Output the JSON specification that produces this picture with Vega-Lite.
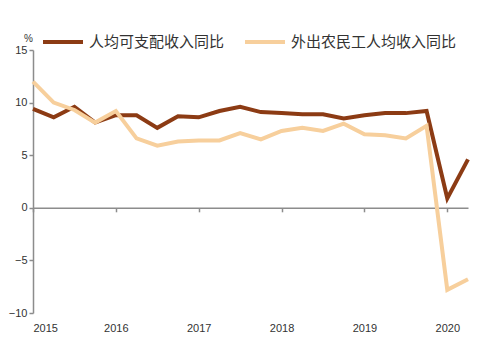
{
  "$schema": "https://vega.github.io/schema/vega-lite/v6.json",
  "width": 435,
  "height": 263,
  "autosize": {"type": "none"},
  "padding": {"left": 33, "top": 50, "right": 32, "bottom": 41},
  "background": "white",
  "config": {"view": {"stroke": null}},
  "data": {
    "values": [
      {"t": 2015.0, "s": "人均可支配收入同比", "v": 9.4},
      {"t": 2015.25, "s": "人均可支配收入同比", "v": 8.6},
      {"t": 2015.5, "s": "人均可支配收入同比", "v": 9.6},
      {"t": 2015.75, "s": "人均可支配收入同比", "v": 8.1},
      {"t": 2016.0, "s": "人均可支配收入同比", "v": 8.8},
      {"t": 2016.25, "s": "人均可支配收入同比", "v": 8.8},
      {"t": 2016.5, "s": "人均可支配收入同比", "v": 7.6},
      {"t": 2016.75, "s": "人均可支配收入同比", "v": 8.7},
      {"t": 2017.0, "s": "人均可支配收入同比", "v": 8.6},
      {"t": 2017.25, "s": "人均可支配收入同比", "v": 9.2},
      {"t": 2017.5, "s": "人均可支配收入同比", "v": 9.6},
      {"t": 2017.75, "s": "人均可支配收入同比", "v": 9.1},
      {"t": 2018.0, "s": "人均可支配收入同比", "v": 9.0},
      {"t": 2018.25, "s": "人均可支配收入同比", "v": 8.9},
      {"t": 2018.5, "s": "人均可支配收入同比", "v": 8.9},
      {"t": 2018.75, "s": "人均可支配收入同比", "v": 8.5},
      {"t": 2019.0, "s": "人均可支配收入同比", "v": 8.8},
      {"t": 2019.25, "s": "人均可支配收入同比", "v": 9.0},
      {"t": 2019.5, "s": "人均可支配收入同比", "v": 9.0},
      {"t": 2019.75, "s": "人均可支配收入同比", "v": 9.2},
      {"t": 2020.0, "s": "人均可支配收入同比", "v": 0.9},
      {"t": 2020.25, "s": "人均可支配收入同比", "v": 4.6},
      {"t": 2015.0, "s": "外出农民工人均收入同比", "v": 12.0},
      {"t": 2015.25, "s": "外出农民工人均收入同比", "v": 10.0},
      {"t": 2015.5, "s": "外出农民工人均收入同比", "v": 9.3},
      {"t": 2015.75, "s": "外出农民工人均收入同比", "v": 8.1},
      {"t": 2016.0, "s": "外出农民工人均收入同比", "v": 9.2},
      {"t": 2016.25, "s": "外出农民工人均收入同比", "v": 6.6},
      {"t": 2016.5, "s": "外出农民工人均收入同比", "v": 5.9},
      {"t": 2016.75, "s": "外出农民工人均收入同比", "v": 6.3},
      {"t": 2017.0, "s": "外出农民工人均收入同比", "v": 6.4},
      {"t": 2017.25, "s": "外出农民工人均收入同比", "v": 6.4},
      {"t": 2017.5, "s": "外出农民工人均收入同比", "v": 7.1},
      {"t": 2017.75, "s": "外出农民工人均收入同比", "v": 6.5},
      {"t": 2018.0, "s": "外出农民工人均收入同比", "v": 7.3},
      {"t": 2018.25, "s": "外出农民工人均收入同比", "v": 7.6},
      {"t": 2018.5, "s": "外出农民工人均收入同比", "v": 7.3},
      {"t": 2018.75, "s": "外出农民工人均收入同比", "v": 8.0},
      {"t": 2019.0, "s": "外出农民工人均收入同比", "v": 7.0},
      {"t": 2019.25, "s": "外出农民工人均收入同比", "v": 6.9},
      {"t": 2019.5, "s": "外出农民工人均收入同比", "v": 6.6},
      {"t": 2019.75, "s": "外出农民工人均收入同比", "v": 7.8},
      {"t": 2020.0, "s": "外出农民工人均收入同比", "v": -7.8},
      {"t": 2020.25, "s": "外出农民工人均收入同比", "v": -6.8}
    ]
  },
  "mark": {"type": "line", "strokeWidth": 4, "strokeJoin": "miter", "strokeCap": "butt"},
  "encoding": {
    "x": {
      "field": "t",
      "type": "quantitative",
      "scale": {"domain": [2015, 2020.25], "nice": false, "zero": false},
      "axis": {
        "title": null,
        "values": [2015, 2016, 2017, 2018, 2019, 2020],
        "format": "d",
        "offset": -105.2,
        "grid": false,
        "domainColor": "#8c8c8c",
        "domainWidth": 1.5,
        "tickColor": "#8c8c8c",
        "tickWidth": 1.5,
        "tickSize": 4,
        "labelPadding": 111,
        "labelFont": "Liberation Sans",
        "labelFontSize": 11,
        "labelColor": "#333333"
      }
    },
    "y": {
      "field": "v",
      "type": "quantitative",
      "scale": {"domain": [-10, 15], "nice": false},
      "axis": {
        "title": "%",
        "titleAngle": 0,
        "titleX": -5,
        "titleY": -7,
        "titleAlign": "center",
        "titleFont": "Liberation Sans",
        "titleFontSize": 10,
        "titleFontWeight": "normal",
        "titleColor": "#333333",
        "values": [-10, -5, 0, 5, 10, 15],
        "grid": false,
        "domainColor": "#8c8c8c",
        "domainWidth": 1.5,
        "tickColor": "#8c8c8c",
        "tickWidth": 1.5,
        "tickSize": 4,
        "labelPadding": 2,
        "labelFont": "Liberation Sans",
        "labelFontSize": 11,
        "labelColor": "#333333"
      }
    },
    "color": {
      "field": "s",
      "type": "nominal",
      "sort": ["人均可支配收入同比", "外出农民工人均收入同比"],
      "scale": {"domain": ["人均可支配收入同比", "外出农民工人均收入同比"], "range": ["#8c3b14", "#f7cf9c"]},
      "legend": {
        "title": null,
        "orient": "none",
        "direction": "horizontal",
        "legendX": 8,
        "legendY": -30,
        "symbolType": "stroke",
        "symbolSize": 1600,
        "symbolStrokeWidth": 4,
        "labelOffset": 4,
        "columnPadding": 12,
        "labelFont": "Noto Sans CJK SC",
        "labelFontSize": 15,
        "labelColor": "#333333",
        "labelLimit": 300
      }
    }
  }
}
